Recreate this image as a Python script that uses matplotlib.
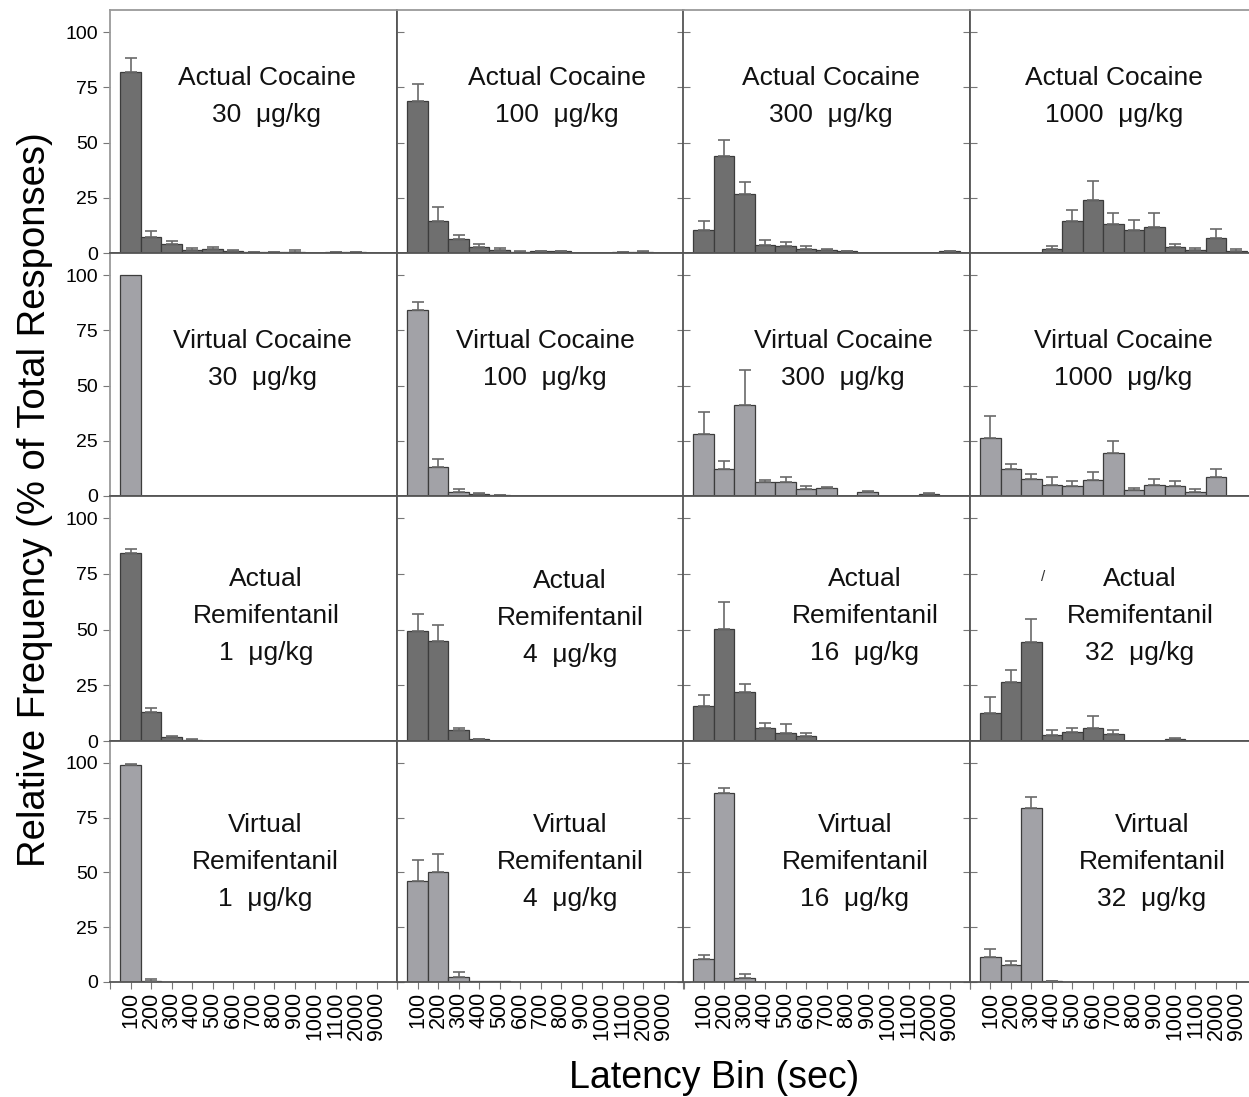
import matplotlib
matplotlib.use('Agg')
import matplotlib.pyplot as plt
import numpy as np

plt.rcParams['font.family'] = ['Liberation Sans', 'DejaVu Sans']

# 横轴：潜伏期分组
bins = ['100', '200', '300', '400', '500', '600', '700', '800', '900',
        '1000', '1100', '2000', '9000']

# 每行：条件名称；每列：剂量
row_kind = ['Actual', 'Virtual', 'Actual', 'Virtual']
row_drug = ['Cocaine', 'Cocaine', 'Remifentanil', 'Remifentanil']
cocaine_doses = ['30', '100', '300', '1000']
remi_doses = ['1', '4', '16', '32']

# 均值（% of total responses）
act_coc_30 = [82, 7.3, 3.9, 1.5, 1.8, 1.0, 0.3, 0.3, 0.6, 0, 0.4, 0.4, 0]
act_coc_100 = [69, 14.7, 6.5, 2.7, 1.5, 0.5, 0.9, 0.7, 0, 0, 0.3, 0.5, 0]
act_coc_300 = [10.6, 43.8, 26.9, 3.5, 3.3, 2.0, 1.5, 0.9, 0, 0, 0, 0, 0.8]
act_coc_1000 = [0, 0, 0, 2.0, 14.3, 23.8, 13.1, 10.5, 11.7, 2.6, 1.5, 6.8, 1.0]

vir_coc_30 = [100, 0, 0, 0, 0, 0, 0, 0, 0, 0, 0, 0, 0]
vir_coc_100 = [84, 13, 2.0, 1.0, 0.4, 0, 0, 0, 0, 0, 0, 0, 0]
vir_coc_300 = [28.1, 12, 41.1, 6.5, 6.5, 3.2, 3.6, 0, 1.6, 0, 0, 0.8, 0]
vir_coc_1000 = [26.4, 12, 7.5, 5.0, 4.7, 7.2, 19.5, 2.7, 5.0, 4.4, 2.0, 8.6, 0]

act_remi_1 = [84.4, 13.1, 1.7, 0.5, 0, 0, 0, 0, 0, 0, 0, 0, 0]
act_remi_4 = [49.4, 44.9, 4.8, 0.8, 0, 0, 0, 0, 0, 0, 0, 0, 0]
act_remi_16 = [15.7, 50.5, 22.2, 6.0, 3.6, 2.1, 0, 0, 0, 0, 0, 0, 0]
act_remi_32 = [12.7, 26.6, 44.6, 2.9, 3.9, 5.9, 3.2, 0, 0, 0.8, 0, 0, 0]

vir_remi_1 = [98.9, 0.6, 0, 0, 0, 0, 0, 0, 0, 0, 0, 0, 0]
vir_remi_4 = [46.3, 50.1, 2.3, 0.3, 0.3, 0, 0, 0, 0, 0, 0, 0, 0]
vir_remi_16 = [10.3, 86.2, 2.0, 0, 0, 0, 0, 0, 0, 0, 0, 0, 0]
vir_remi_32 = [11.2, 7.6, 79.5, 0.3, 0, 0, 0, 0, 0, 0, 0, 0, 0]

# 误差线上端（均值 + SEM）
act_coc_30_top = [88.4, 9.8, 5.3, 2.1, 2.7, 1.5, 0.5, 0.5, 1.5, 0, 0.6, 0.6, 0]
act_coc_100_top = [76.3, 20.8, 8.0, 3.9, 2.4, 0.7, 1.1, 0.9, 0, 0, 0.5, 0.7, 0]
act_coc_300_top = [14.4, 51, 32.3, 5.7, 4.8, 3.0, 1.9, 1.1, 0, 0, 0, 0, 1.1]
act_coc_1000_top = [0, 0, 0, 3.3, 19.5, 32.4, 18.2, 14.9, 17.9, 3.9, 2.4, 10.8, 2.0]

vir_coc_30_top = [100, 0, 0, 0, 0, 0, 0, 0, 0, 0, 0, 0, 0]
vir_coc_100_top = [88, 16.8, 3.0, 1.4, 0.6, 0, 0, 0, 0, 0, 0, 0, 0]
vir_coc_300_top = [37.8, 15.8, 57, 7.2, 8.7, 4.4, 4.2, 0, 2.1, 0, 0, 1.4, 0]
vir_coc_1000_top = [36.2, 14.3, 9.9, 8.7, 6.6, 10.7, 24.8, 3.8, 7.7, 6.6, 3.0, 12, 0]

act_remi_1_top = [86.4, 14.8, 2.3, 0.7, 0, 0, 0, 0, 0, 0, 0, 0, 0]
act_remi_4_top = [57.1, 52, 6.0, 1.0, 0, 0, 0, 0, 0, 0, 0, 0, 0]
act_remi_16_top = [20.5, 62.5, 25.8, 8.3, 7.6, 3.8, 0, 0, 0, 0, 0, 0, 0]
act_remi_32_top = [19.6, 31.9, 54.8, 4.8, 5.7, 11.2, 4.8, 0, 0, 1.5, 0, 0, 0]

vir_remi_1_top = [99.7, 1.2, 0, 0, 0, 0, 0, 0, 0, 0, 0, 0, 0]
vir_remi_4_top = [55.7, 58.4, 4.6, 0.4, 0.4, 0, 0, 0, 0, 0, 0, 0, 0]
vir_remi_16_top = [12.5, 88.6, 3.8, 0, 0, 0, 0, 0, 0, 0, 0, 0, 0]
vir_remi_32_top = [14.9, 9.7, 84.6, 0.5, 0, 0, 0, 0, 0, 0, 0, 0, 0]

means = [[act_coc_30, act_coc_100, act_coc_300, act_coc_1000],
         [vir_coc_30, vir_coc_100, vir_coc_300, vir_coc_1000],
         [act_remi_1, act_remi_4, act_remi_16, act_remi_32],
         [vir_remi_1, vir_remi_4, vir_remi_16, vir_remi_32]]
tops = [[act_coc_30_top, act_coc_100_top, act_coc_300_top, act_coc_1000_top],
        [vir_coc_30_top, vir_coc_100_top, vir_coc_300_top, vir_coc_1000_top],
        [act_remi_1_top, act_remi_4_top, act_remi_16_top, act_remi_32_top],
        [vir_remi_1_top, vir_remi_4_top, vir_remi_16_top, vir_remi_32_top]]

# 颜色
bar_color = {'Actual': '#6f6f6f', 'Virtual': '#a2a2a7'}
edge_color = '#3c3c3c'
err_color = '#6a6a6a'

W, H = 1249, 1097
fig = plt.figure(figsize=(W / 100, H / 100), dpi=100)

# 面板像素边界
col_left = [110, 397, 683, 970]
col_w = 287
row_top = [10, 253, 496, 741]
row_h = [243, 243, 245, 241]

# 面板内文字位置（中心 x 像素，首行 y 像素）
label_pos = [[(267, 78), (557, 78), (831, 78), (1114, 78)],
             [(262, 341), (545, 341), (843, 341), (1123, 341)],
             [(266, 579), (570, 581), (865, 579), (1140, 579)],
             [(265, 825), (570, 825), (855, 825), (1152, 825)]]

x = np.arange(1, len(bins) + 1)

for r in range(4):
    for c in range(4):
        l = col_left[c] / W
        b = 1 - (row_top[r] + row_h[r]) / H
        ax = fig.add_axes([l, b, col_w / W, row_h[r] / H])
        vals = np.array(means[r][c], dtype=float)
        top = np.array(tops[r][c], dtype=float)
        up = np.clip(top - vals, 0, None)
        kind = row_kind[r]
        ax.bar(x, vals, width=1.0, color=bar_color[kind],
               edgecolor=edge_color, linewidth=0.9, zorder=2)
        mask = up > 0.15
        ax.errorbar(x[mask], vals[mask], yerr=[np.zeros(mask.sum()), up[mask]],
                    fmt='none', ecolor=err_color, elinewidth=1.2,
                    capsize=4, capthick=1.2, zorder=3)
        ax.set_xlim(0, 14)
        ax.set_ylim(0, 110)
        ax.set_xticks(np.arange(0, 15))
        ax.set_yticks([0, 25, 50, 75, 100])
        if r == 3:
            ax.set_xticklabels([''] + bins + [''], rotation=90, fontsize=15.5)
        else:
            ax.set_xticklabels([])
        if c == 0:
            ax.set_yticklabels(['0', '25', '50', '75', '100'], fontsize=14)
            ax.tick_params(axis='y', direction='out', length=5, color='#777777',
                           right=True)
        else:
            ax.set_yticklabels([])
            ax.tick_params(axis='y', direction='in', length=5, color='#777777',
                           right=True)
        ax.tick_params(axis='x', direction='out', length=5, color='#777777',
                       pad=2)
        for name, sp in ax.spines.items():
            sp.set_color('#555555')
            sp.set_linewidth(1.3)
        if c == 0:
            ax.spines['left'].set_color('#9a9a9a')
        if r == 0:
            ax.spines['top'].set_color('#9a9a9a')

        # 面板标签
        dose = cocaine_doses[c] if row_drug[r] == 'Cocaine' else remi_doses[c]
        cx, cy = label_pos[r][c]
        if row_drug[r] == 'Cocaine':
            lines = [kind + ' ' + row_drug[r], dose + '  \u03bcg/kg']
        else:
            lines = [kind, row_drug[r], dose + '  \u03bcg/kg']
        for i, t in enumerate(lines):
            fig.text(cx / W, 1 - (cy + i * 37) / H, t, fontsize=19,
                     ha='center', va='center', color='#111111')

# 原图中残留的小字符
fig.text(1043 / W, 1 - 577 / H, '/', fontsize=11, ha='center', va='center',
         color='#333333')

fig.text(35 / W, 1 - 500 / H, 'Relative Frequency (% of Total Responses)',
         rotation=90, fontsize=27.5, ha='center', va='center')
fig.text(714 / W, 1 - 1078 / H, 'Latency Bin (sec)', fontsize=27,
         ha='center', va='center')

fig.savefig('out.png', dpi=100)
plt.close(fig)
